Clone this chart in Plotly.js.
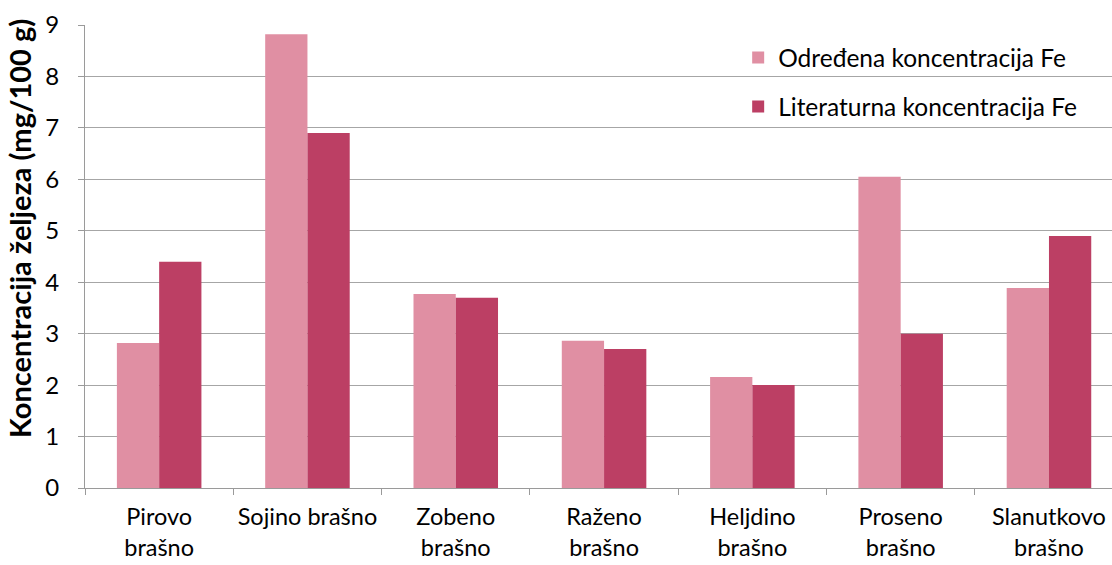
<!DOCTYPE html>
<html>
<head>
<meta charset="utf-8">
<script src="https://cdn.plot.ly/plotly-3.0.1.min.js"></script>
<style>html,body{margin:0;padding:0;background:#fff;}#chart{width:1112px;height:565px;}</style>
</head>
<body>
<div id="chart"></div>
<script>
const categories = ["Pirovo<br>brašno", "Sojino brašno", "Zobeno<br>brašno", "Raženo<br>brašno", "Heljdino<br>brašno", "Proseno<br>brašno", "Slanutkovo<br>brašno"];
const odredjena = [2.82, 8.82, 3.77, 2.86, 2.16, 6.05, 3.89];
const literaturna = [4.4, 6.9, 3.7, 2.7, 2.0, 3.0, 4.9];
const seriesNames = ["Određena koncentracija Fe", "Literaturna koncentracija Fe"];
const yTicks = [0, 1, 2, 3, 4, 5, 6, 7, 8, 9];
const yTitle = "Koncentracija željeza (mg/100 g)";

const font = "Lato, 'Open Sans', sans-serif";
const traces = [
  {type: "bar", x: categories, y: odredjena, name: seriesNames[0], legendgroup: "a",
   marker: {color: "#E08FA3"}},
  {type: "bar", x: categories, y: literaturna, name: seriesNames[1], legendgroup: "b",
   marker: {color: "#BC3F64"}}
];
const layout = {
  width: 1112, height: 565,
  margin: {l: 85, r: 0, t: 25, b: 77},
  paper_bgcolor: "#fff", plot_bgcolor: "#fff",
  barmode: "group", bargap: 0.43, bargroupgap: 0,
  font: {family: font, size: 24, color: "#000"},
  showlegend: true,
  legend: {x: 0.636, y: 0.978, xanchor: "left", yanchor: "top", traceorder: "grouped",
           tracegroupgap: 14, font: {family: font, size: 24.5, color: "#000"}, bgcolor: "rgba(0,0,0,0)"},
  xaxis: {type: "category", range: [-0.5, 6.425], tickson: "boundaries", ticks: "outside", ticklen: 6,
          tickcolor: "#9a9a9a", showline: true, linecolor: "#9a9a9a", linewidth: 1, showgrid: false,
          tickangle: 0, ticklabelstandoff: 8,
          tickfont: {family: font, size: 23.5, color: "#000"}, automargin: false},
  yaxis: {range: [0, 9], tickvals: yTicks, ticks: "outside", ticklen: 6, tickcolor: "#9a9a9a",
          showline: true, linecolor: "#9a9a9a", linewidth: 1, showgrid: true, gridcolor: "#a6a6a6",
          ticklabelstandoff: 14,
          gridwidth: 1, zeroline: false, tickfont: {family: font, size: 24, color: "#000"},
          automargin: false},
  annotations: [{text: "<b>" + yTitle + "</b>", xref: "paper", yref: "paper", x: -0.0633, y: 0.5616,
                 xanchor: "center", yanchor: "middle", textangle: -90, showarrow: false,
                 font: {family: font, size: 29, color: "#000"}}]
};
Plotly.newPlot("chart", traces, layout, {displayModeBar: false, staticPlot: true});
</script>
</body>
</html>
